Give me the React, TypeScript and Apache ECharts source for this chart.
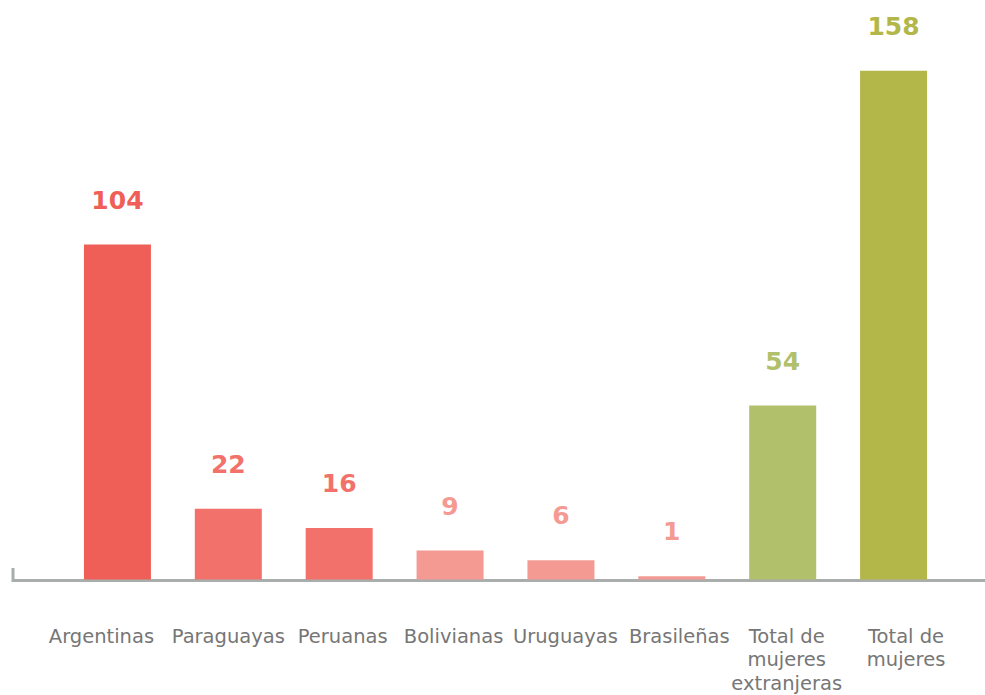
import React, { useEffect, useRef } from "react";
import * as echarts from "echarts";

const categories = [
  "Argentinas",
  "Paraguayas",
  "Peruanas",
  "Bolivianas",
  "Uruguayas",
  "Brasileñas",
  "Total de\nmujeres\nextranjeras",
  "Total de\nmujeres",
];
const values = [104, 22, 16, 9, 6, 1, 54, 158];
const colors = [
  "#ef5f57",
  "#f2726b",
  "#f2726b",
  "#f49a93",
  "#f49a93",
  "#f49a93",
  "#b1c06a",
  "#b3b74a",
];
// horizontal nudge of each category label (px) as in the reference layout
const labelShift = [-16, 0, 3.5, 3.5, 4.5, 7.5, 4, 12.5];

export default function App() {
  const ref = useRef<HTMLDivElement>(null);
  useEffect(() => {
    if (!ref.current) return;
    const chart = echarts.init(ref.current, undefined, { renderer: "svg" });
    const labelFont = {
      color: "#767676",
      fontSize: 19.5,
      lineHeight: 23.5,
      fontFamily: "DejaVu Sans",
    };
    const rich: Record<string, any> = {};
    labelShift.forEach((s, i) => {
      rich["s" + i] = {
        ...labelFont,
        padding: s >= 0 ? [0, 0, 0, 2 * s] : [0, -2 * s, 0, 0],
      };
    });
    chart.setOption({
      animation: false,
      backgroundColor: "#ffffff",
      grid: { left: 62, right: 36, top: 32, bottom: 114, containLabel: false },
      xAxis: {
        type: "category",
        data: categories,
        axisLine: { show: false },
        axisTick: { show: false },
        axisLabel: {
          interval: 0,
          margin: 45,
          ...labelFont,
          align: "center",
          verticalAlign: "top",
          formatter: (value: string, index: number) =>
            value
              .split("\n")
              .map((l) => `{s${index}|${l}}`)
              .join("\n"),
          rich,
        },
      },
      yAxis: {
        type: "value",
        min: 0,
        max: 170,
        show: false,
        splitLine: { show: false },
      },
      graphic: [
        {
          type: "polyline",
          shape: { points: [[13, 568], [13, 580.5], [985, 580.5]] },
          style: { stroke: "#a9adac", lineWidth: 3, fill: "none" },
          z: 0,
        },
      ],
      series: [
        {
          type: "bar",
          barWidth: 67,
          z: 5,
          data: values.map((v, i) => ({
            value: v,
            itemStyle: { color: colors[i] },
            label: { color: colors[i] },
          })),
          label: {
            show: true,
            position: "top",
            distance: 32,
            fontSize: 25,
            fontWeight: "bold",
            fontFamily: "DejaVu Sans",
          },
        },
      ],
    });
    return () => chart.dispose();
  }, []);
  return (
    <div
      ref={ref}
      style={{ position: "fixed", left: 0, top: 0, width: 985, height: 695 }}
    />
  );
}
